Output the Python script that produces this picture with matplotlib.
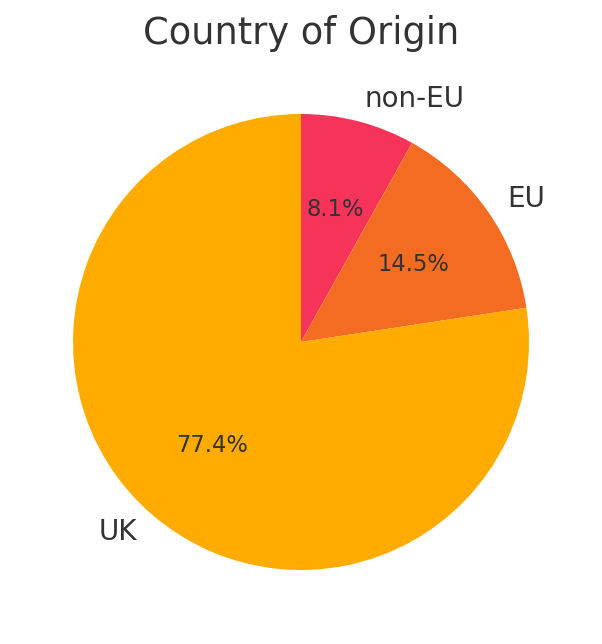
import matplotlib
matplotlib.use("Agg")
import matplotlib.pyplot as plt

# Share of respondents by origin
labels = ["non-EU", "EU", "UK"]
shares = [8.1, 14.5, 77.4]
colours = ["#F6345A", "#F46B22", "#FFAB00"]

fig = plt.figure(figsize=(6.02, 6.44), dpi=100)
ax = fig.add_axes([16 / 602, 17 / 644, 570 / 602, 570 / 644])

wedges, texts, autotexts = ax.pie(shares, labels=labels, colors=colours,
                                  autopct="%1.1f%%", startangle=90,
                                  counterclock=False,
                                  textprops={"color": "#333333", "fontsize": 20})
for t in autotexts:
    t.set_fontsize(16.3)

ax.set_xlim(-1.25, 1.25)
ax.set_ylim(-1.25, 1.25)
ax.set_aspect("equal")
fig.text(0.5, 1 - 33 / 644, "Country of Origin", ha="center", va="center",
         fontsize=26.5, color="#333333")

fig.savefig("out.png", dpi=100)
